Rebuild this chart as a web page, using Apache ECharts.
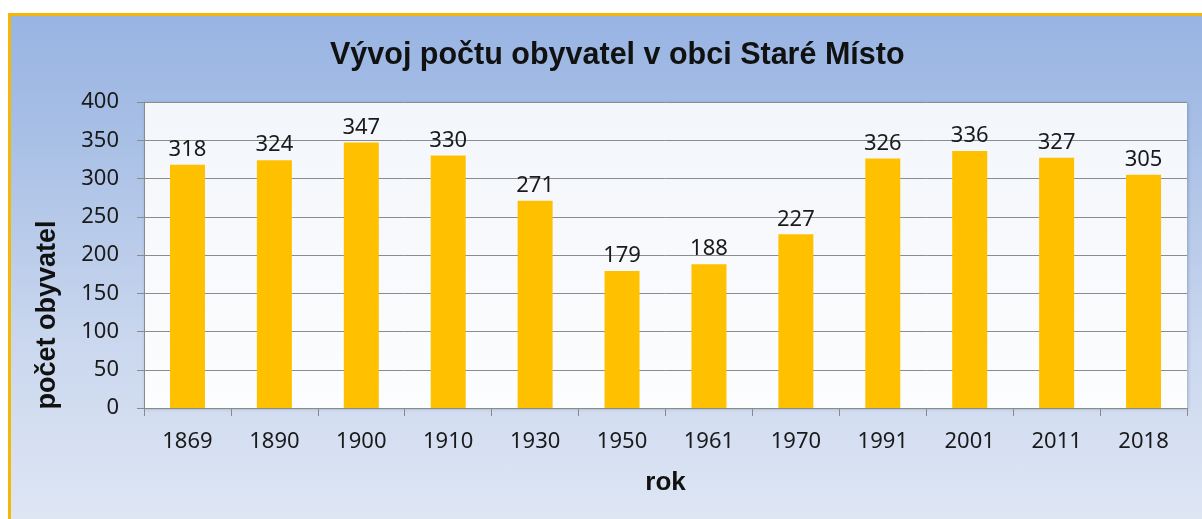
<!DOCTYPE html>
<html>
<head>
<meta charset="utf-8">
<script src="https://cdn.jsdelivr.net/npm/echarts@6/dist/echarts.min.js"></script>
<style>
  html, body { margin: 0; padding: 0; background: #fff; }
  #box {
    position: absolute; left: 8px; top: 13px;
    width: 1191px; height: 503px;
    border-top: 3px solid #F4B708; border-left: 3px solid #F4B708;
    background: linear-gradient(to bottom, #98B4E3 0%, #A9C0E6 25%, #CAD7EE 65%, #DEE6F4 100%);
  }
  #chart { width: 1191px; height: 503px; }
</style>
</head>
<body>
<div id="box"><div id="chart"></div></div>
<script>
// data
var years = ['1869','1890','1900','1910','1930','1950','1961','1970','1991','2001','2011','2018'];
var obyvatel = [318, 324, 347, 330, 271, 179, 188, 227, 326, 336, 327, 305];

var txtFont = '"Noto Sans", "Open Sans", sans-serif';
var boldFont = '"Liberation Sans", Arial, sans-serif';

var myChart = echarts.init(document.getElementById('chart'));
myChart.setOption({
    animation: false,
    backgroundColor: 'transparent',
    title: {
        text: 'Vývoj počtu obyvatel v obci Staré Místo',
        left: 314,
        top: 19,
        textStyle: { fontFamily: boldFont, fontSize: 30.5, fontWeight: 'bold', color: '#111' }
    },
    grid: {
        left: 133, top: 86, right: 15, height: 306,
        show: true,
        borderWidth: 0,
        backgroundColor: {
            type: 'linear', x: 0, y: 0, x2: 0, y2: 1,
            colorStops: [{ offset: 0, color: '#F3F6FB' }, { offset: 1, color: '#FCFDFE' }]
        },
        shadowColor: 'rgba(60,80,120,0.35)',
        shadowBlur: 3,
        shadowOffsetX: 1,
        shadowOffsetY: 1
    },
    xAxis: {
        type: 'category',
        data: years,
        name: 'rok',
        nameLocation: 'middle',
        nameGap: 62,
        nameTextStyle: { fontFamily: boldFont, fontSize: 26, fontWeight: 'bold', color: '#111' },
        axisLine: { show: true, lineStyle: { color: '#8A8A8A', width: 1 } },
        axisTick: { show: true, length: 8, alignWithLabel: false, lineStyle: { color: '#8A8A8A' } },
        axisLabel: { fontFamily: txtFont, fontSize: 22, color: '#1a1a1a', margin: 23 },
        splitLine: { show: false }
    },
    yAxis: {
        type: 'value',
        min: 0, max: 400, interval: 50,
        name: 'počet obyvatel',
        nameLocation: 'middle',
        nameRotate: 90,
        nameGap: 83,
        nameTextStyle: { fontFamily: boldFont, fontSize: 27, fontWeight: 'bold', color: '#111', padding: [0, 120, 0, 0] },
        axisLine: { show: true, lineStyle: { color: '#8A8A8A', width: 1 } },
        axisTick: { show: true, length: 7, lineStyle: { color: '#8A8A8A' } },
        axisLabel: { fontFamily: txtFont, fontSize: 22, color: '#1a1a1a', margin: 25 },
        splitLine: { show: true, lineStyle: { color: '#8C8C8C', width: 1 } }
    },
    series: [{
        name: 'počet obyvatel',
        type: 'bar',
        data: obyvatel,
        barWidth: 35,
        itemStyle: { color: '#FFC000' },
        label: {
            show: true,
            position: 'top',
            distance: 4,
            fontFamily: txtFont,
            fontSize: 22,
            color: '#1a1a1a'
        }
    }]
});
</script>
</body>
</html>
